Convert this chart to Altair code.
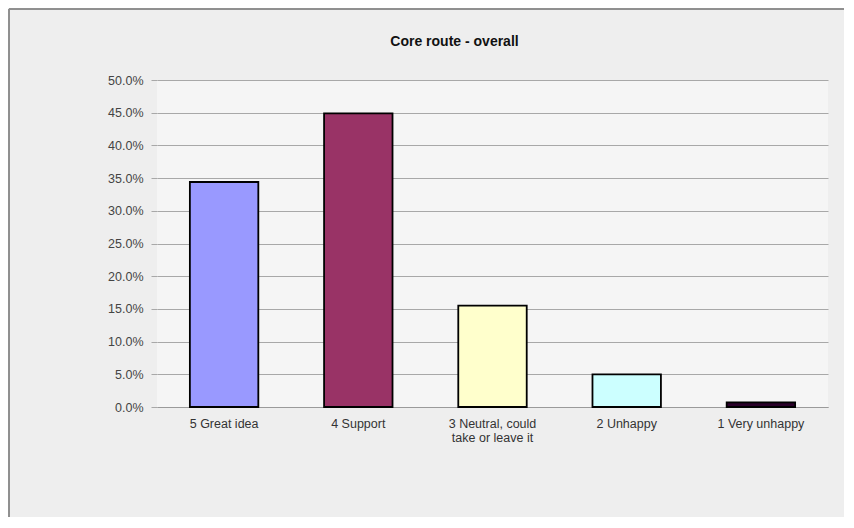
import altair as alt
import pandas as pd

categories = ["5 Great idea", "4 Support", "3 Neutral, could\ntake or leave it", "2 Unhappy", "1 Very unhappy"]
shares = [0.344, 0.449, 0.155, 0.050, 0.007]
colors = ["#9999ff", "#993366", "#ffffcc", "#ccffff", "#2a002a"]

df = pd.DataFrame({"category": categories, "share": shares, "color": colors})

W, H = 671, 327
PL, PT = 149, 72

bars = alt.Chart(df).mark_bar(stroke="#000000", strokeWidth=1.8).encode(
    x=alt.X("category:N", sort=categories, title=None,
            scale=alt.Scale(paddingInner=0.49, paddingOuter=0.245),
            axis=alt.Axis(labelAngle=0, labelExpr="split(datum.label, '\\n')",
                          labelFont="Liberation Sans", labelFontSize=12.5, labelColor="#333333",
                          ticks=False, domain=True, domainColor="#9a9a9a", labelPadding=10,
                          labelLineHeight=14)),
    y=alt.Y("share:Q", title=None,
            scale=alt.Scale(domain=[0, 0.5], nice=False),
            axis=alt.Axis(format=".1%", values=[i * 0.05 for i in range(11)],
                          labelFont="Liberation Sans", labelFontSize=12.5, labelColor="#444444",
                          gridColor="#a8a8a8", gridWidth=1, domain=False,
                          tickSize=6, tickColor="#a8a8a8", labelPadding=8)),
    color=alt.Color("color:N", scale=None, legend=None),
)

border = alt.Chart(df).mark_rect(fill=None, stroke="#8c8c8c", strokeWidth=1).encode(
    x=alt.value(-PL + 1), x2=alt.value(W + 18),
    y=alt.value(-PT + 1), y2=alt.value(H + 111),
)

chart = alt.layer(border, bars).properties(
    width=W, height=H,
    autosize=alt.AutoSizeParams(type="none"),
    padding={"left": PL, "top": PT, "right": 16, "bottom": 110},
    background="#eeeeee",
    title=alt.TitleParams("Core route - overall", font="Liberation Sans", fontSize=14,
                          fontWeight="bold", color="#111111", dx=-38, offset=-40, anchor="middle"),
).configure_view(fill="#f5f5f5", stroke=None)

chart.save("out.html", embed_options={"renderer": "svg", "actions": False})
